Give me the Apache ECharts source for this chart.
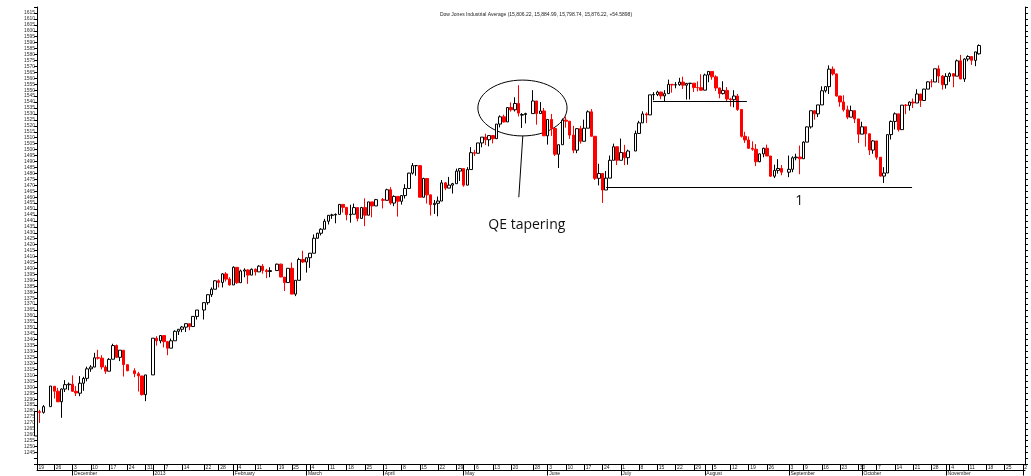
<!DOCTYPE html>
<html><head><meta charset="utf-8">
<script src="https://cdn.jsdelivr.net/npm/echarts@6/dist/echarts.min.js"></script>
<style>html,body{margin:0;padding:0;background:#fff}#c{width:1031px;height:476px}</style>
</head><body><div id="c"></div>
<script>
// ---------- DATA (Dow Jones Industrial Average / 10, daily) ----------
const startDate = '2012-11-19';
const axisEndDate = '2013-12-06';
const holidays = ['2012-11-22','2012-12-25','2013-01-01','2013-01-21','2013-02-18','2013-03-29','2013-05-27','2013-07-04','2013-09-02','2013-11-28'];
const monthKeys   = ['2012-12','2013-01','2013-02','2013-03','2013-04','2013-05','2013-06','2013-07','2013-08','2013-09','2013-10','2013-11','2013-12'];
const monthNames  = ['December','2013','February','March','April','May','June','July','August','September','October','November',''];
const titleText = 'Dow Jones Industrial Average (15,806.22, 15,884.99, 15,798.74, 15,876.22, +54.5898)';

const opens = [
1259.0,1279.4,1278.9,1283.7,1300.8,1296.7,1287.8,1298.5,1302.1,
1302.6,1296.6,1295.0,1303.4,1307.5,1315.5,1317.0,1324.9,1324.5,1317.0,1313.5,1323.6,1335.1,1325.2,1331.1,1319.0,1313.9,1311.4,1309.5,1293.8,
1310.4,1341.2,1339.1,1343.5,1338.4,1332.9,1339.1,1347.1,1348.8,1350.6,1353.5,1351.1,1359.6,1365.0,1371.2,1377.9,1382.5,1389.6,1388.2,1395.4,1391.0,
1386.1,1400.9,1388.0,1397.8,1398.7,1394.4,1399.3,1397.1,1401.9,1398.3,1397.4,1398.2,1403.6,1392.7,1388.1,1400.1,1378.4,1390.0,1407.5,
1405.4,1409.0,1412.8,1425.4,1429.6,1433.0,1439.7,1444.7,1445.0,1445.5,1453.9,1451.4,1445.2,1445.6,1451.2,1442.1,1451.2,1444.8,1456.0,1452.6,
1457.9,1457.3,1466.2,1455.0,1460.6,1456.5,1461.3,1467.3,1480.2,1486.5,1486.5,1459.9,1475.7,1461.9,1453.7,1454.8,1456.7,1472.0,1467.6,1470.1,1471.3,1481.9,
1484.0,1470.1,1483.2,1497.4,1496.9,1505.6,1510.5,1508.3,1511.8,1509.2,1521.5,1527.6,1523.3,1535.4,1533.5,1538.8,1529.0,1529.5,1530.3,1540.9,1530.3,1532.5,
1511.6,1525.4,1517.8,1496.1,1504.1,1524.8,1523.9,1512.2,1499.5,1517.6,1507.0,1518.0,1531.8,1511.2,1475.8,1479.9,1466.0,1476.0,1491.0,1502.4,
1491.0,1497.5,1493.2,1498.8,1513.6,1522.5,1530.0,1529.2,1546.1,1546.4,1548.4,1545.2,1547.1,1554.9,1554.4,1554.6,1556.8,1554.2,1555.6,1555.9,1552.2,1552.1,
1550.0,1562.8,1565.8,1561.2,1551.9,1547.1,1549.8,1542.6,1542.0,1545.1,1533.8,1511.2,1508.1,1501.1,1500.3,1489.8,1496.4,1501.1,1494.6,1477.6,1482.5,1484.1,
1481.0,1483.4,1493.1,1493.7,1492.3,1506.3,1519.1,1532.7,1530.1,1537.6,1549.5,1553.0,1567.7,1563.7,1545.1,1540.1,1533.5,1527.3,1532.8,1525.8,
1513.0,1519.2,1513.3,1499.6,1507.3,1493.6,1477.7,1480.3,1512.6,1523.7,1530.1,1516.8,1537.4,1537.2,1540.0,1539.2,1546.8,1541.3,1550.9,1557.0,1556.9,1568.0,1561.9,
1554.6,1561.6,1563.9,1561.8,1574.7,1559.4,1576.2,1578.3,1575.1,1580.6
];
const highs = [
1280.0,1281.0,1285.0,1301.0,1301.0,1299.5,1299.0,1306.0,1304.0,
1310.0,1301.0,1309.4,1308.8,1317.3,1318.6,1329.0,1331.5,1327.0,1318.6,1324.5,1336.6,1336.0,1331.2,1331.1,1319.0,1316.0,1313.0,1309.5,1310.4,
1341.3,1343.0,1343.6,1343.5,1339.0,1341.0,1348.0,1349.0,1351.6,1353.6,1353.5,1359.8,1365.0,1371.2,1378.1,1384.0,1390.0,1390.8,1396.0,1396.9,1392.6,
1401.8,1400.9,1399.0,1400.1,1399.3,1400.0,1400.0,1402.7,1403.6,1399.7,1401.0,1404.0,1404.0,1392.7,1400.1,1405.0,1390.0,1409.0,1414.9,
1409.0,1413.0,1428.6,1430.0,1433.8,1441.7,1444.9,1446.0,1446.3,1454.0,1453.9,1451.4,1453.6,1454.6,1451.2,1451.8,1459.0,1456.0,1456.0,1458.5,
1459.3,1467.1,1468.4,1461.5,1460.6,1461.3,1470.9,1480.5,1488.7,1486.5,1486.5,1476.3,1475.7,1462.0,1457.6,1460.5,1474.4,1472.7,1477.0,1472.0,1484.0,1484.4,
1484.0,1485.2,1502.1,1499.8,1505.6,1510.5,1513.4,1511.8,1512.3,1521.5,1528.8,1529.4,1535.4,1539.7,1544.0,1554.2,1530.7,1531.0,1550.0,1540.9,1540.0,1535.0,
1525.4,1530.0,1517.8,1504.1,1526.2,1527.9,1523.9,1520.0,1518.0,1520.0,1525.2,1533.0,1534.1,1511.2,1488.1,1479.9,1482.0,1495.0,1505.0,1502.4,
1509.3,1504.0,1500.0,1516.0,1524.2,1532.2,1531.3,1546.1,1548.3,1549.5,1548.7,1550.0,1558.9,1555.1,1556.8,1560.4,1561.4,1556.2,1555.9,1555.9,1557.4,1563.4,
1563.9,1565.9,1565.8,1562.5,1551.9,1557.5,1552.6,1543.6,1550.0,1546.8,1533.8,1515.0,1511.0,1507.0,1504.6,1496.6,1501.6,1504.2,1494.6,1487.3,1492.0,1487.0,
1495.0,1494.4,1496.5,1503.4,1507.0,1519.5,1532.7,1533.1,1537.6,1553.3,1553.0,1570.9,1570.0,1564.0,1545.1,1545.7,1537.0,1537.0,1532.8,1525.8,
1523.4,1519.2,1513.3,1508.0,1507.3,1493.6,1485.2,1512.6,1524.5,1531.3,1530.1,1537.4,1538.4,1540.5,1543.0,1550.8,1546.8,1551.2,1557.5,1559.2,1568.0,1570.9,1562.8,
1564.3,1565.0,1564.0,1575.8,1579.7,1576.9,1579.4,1578.3,1582.3,1588.5
];
const lows = [
1259.0,1270.0,1277.8,1283.7,1290.5,1287.5,1274.3,1296.0,1297.5,
1296.0,1292.6,1292.5,1297.0,1305.0,1313.0,1316.9,1323.3,1315.0,1311.3,1313.4,1323.5,1324.6,1322.0,1309.0,1313.5,1308.5,1296.4,1293.0,1288.3,
1310.4,1335.0,1337.0,1333.5,1327.0,1332.9,1339.1,1344.0,1346.4,1346.5,1348.0,1351.1,1357.0,1357.0,1369.5,1376.0,1382.5,1384.0,1384.0,1389.0,1385.7,
1386.1,1387.0,1388.0,1392.6,1387.0,1394.4,1394.0,1397.1,1395.6,1391.8,1392.6,1398.2,1392.7,1381.0,1388.1,1378.4,1376.7,1390.0,1404.5,
1396.5,1400.5,1412.8,1425.0,1427.8,1433.0,1437.0,1441.7,1438.0,1445.5,1447.0,1440.5,1438.5,1445.6,1439.6,1442.1,1435.6,1444.8,1443.0,1452.6,
1450.5,1457.3,1453.6,1452.4,1443.6,1453.7,1458.8,1467.3,1479.0,1478.0,1459.9,1459.9,1454.6,1444.5,1445.9,1443.9,1456.7,1465.9,1467.6,1463.0,1471.3,1473.6,
1468.7,1470.1,1483.2,1494.6,1496.9,1501.9,1503.8,1502.8,1505.2,1508.9,1518.7,1522.7,1523.3,1532.0,1532.1,1527.9,1518.2,1522.0,1530.3,1521.0,1530.3,1511.5,
1504.2,1511.5,1494.6,1484.5,1504.1,1518.5,1509.0,1497.0,1497.0,1505.0,1507.0,1518.0,1511.2,1474.4,1469.9,1455.1,1466.0,1476.0,1491.0,1487.0,
1491.0,1486.9,1487.3,1498.8,1513.6,1522.5,1522.3,1529.2,1541.6,1545.0,1542.4,1540.2,1546.8,1547.9,1551.6,1553.7,1551.0,1542.1,1542.2,1548.5,1549.0,1549.8,
1550.0,1556.7,1558.8,1549.4,1543.2,1546.4,1540.2,1536.2,1535.6,1532.6,1510.2,1505.6,1500.7,1499.0,1486.1,1489.4,1493.5,1494.6,1477.0,1476.0,1479.8,1478.4,
1476.8,1481.0,1491.0,1479.3,1492.3,1506.3,1517.7,1525.2,1527.4,1537.6,1548.0,1546.8,1562.3,1544.7,1536.1,1532.0,1525.6,1527.3,1522.3,1505.6,
1513.0,1502.5,1495.4,1496.5,1491.5,1477.3,1471.9,1480.3,1508.5,1516.9,1515.2,1516.8,1529.8,1532.8,1535.0,1539.2,1535.9,1541.3,1550.9,1552.4,1556.9,1556.0,1550.5,
1551.3,1557.1,1552.5,1561.8,1559.3,1557.0,1574.3,1571.3,1570.2,1579.9
];
const closes = [
1279.6,1278.9,1283.7,1301.0,1296.7,1287.8,1298.5,1302.2,1302.6,
1296.6,1295.2,1303.4,1307.4,1315.5,1317.0,1324.8,1324.5,1317.1,1313.5,1323.5,1335.1,1325.2,1331.2,1319.1,1313.9,1311.5,1309.6,1293.8,1310.4,
1341.3,1339.1,1343.5,1338.4,1332.9,1339.1,1347.1,1348.8,1350.7,1353.5,1351.1,1359.6,1365.0,1371.2,1377.9,1382.5,1389.6,1388.2,1395.4,1391.0,1386.1,
1401.0,1388.0,1397.9,1398.7,1394.4,1399.3,1397.1,1401.9,1398.3,1397.3,1398.2,1403.6,1392.8,1388.1,1400.1,1378.4,1390.0,1407.5,1405.4,
1409.0,1412.8,1425.4,1429.6,1433.0,1439.7,1444.7,1445.0,1445.5,1453.9,1451.4,1445.2,1445.6,1451.2,1442.1,1451.2,1444.8,1456.0,1452.6,1457.9,
1457.3,1466.2,1455.0,1460.6,1456.5,1461.3,1467.3,1480.2,1486.5,1486.5,1459.9,1475.7,1461.9,1453.7,1454.8,1456.7,1472.0,1467.6,1470.1,1471.3,1481.9,1484.0,
1470.1,1483.2,1497.4,1496.9,1505.6,1510.5,1508.3,1511.8,1509.2,1521.5,1527.6,1523.3,1535.4,1533.5,1538.8,1530.7,1529.5,1530.3,1540.9,1530.3,1532.5,1511.6,
1525.4,1517.8,1496.1,1504.1,1524.8,1523.9,1512.2,1499.5,1517.6,1507.0,1518.0,1531.8,1511.2,1475.8,1479.9,1466.0,1476.0,1491.0,1502.4,1491.0,
1497.5,1493.2,1498.8,1513.6,1522.5,1530.0,1529.2,1546.1,1546.4,1548.4,1545.2,1547.1,1554.9,1554.4,1554.6,1556.8,1554.2,1555.6,1555.9,1552.2,1552.1,1550.0,
1562.8,1565.8,1561.2,1551.9,1547.1,1549.8,1542.6,1542.0,1545.1,1533.8,1511.2,1508.1,1501.1,1500.3,1489.8,1496.4,1501.1,1494.6,1477.6,1482.5,1484.1,1481.0,
1483.4,1493.1,1493.7,1492.3,1506.3,1519.1,1532.7,1530.1,1537.6,1549.5,1553.0,1567.7,1563.7,1545.1,1540.1,1533.5,1527.3,1532.8,1525.8,1513.0,
1519.2,1513.3,1499.6,1507.3,1493.6,1477.7,1480.3,1512.6,1523.7,1530.1,1516.8,1537.4,1537.2,1540.0,1539.2,1546.8,1541.3,1550.9,1557.0,1556.9,1568.0,1561.9,1554.6,
1561.6,1563.9,1561.8,1574.7,1559.4,1576.2,1578.3,1575.1,1582.2,1587.6
];

// annotations, in data units (x = weekday index counted from startDate, y = index value)
const qeEllipse = {x: 133.1, y: 1535.0, rx: 12.2, ry: 23.5};
const qePointer = [[133.2, 1511.6], [132.1, 1459.9]];
const qeLabel = {x: 134.3, y: 1436.5, text: 'QE tapering'};
const levelLines = [[[168.8, 1540.4], [194.5, 1540.4]], [[156.0, 1468.5], [239.7, 1468.5]]];
const levelLabel = {x: 208.8, y: 1457.0, text: '1'};

// ---------- helpers ----------
const DAY = 86400000;
const t0 = Date.parse(startDate + 'T00:00:00Z');
function wd(s) { // weekday index from startDate (a Monday)
  const days = Math.round((Date.parse(s + 'T00:00:00Z') - t0) / DAY);
  return Math.floor(days / 7) * 5 + Math.min(days % 7, 5);
}
const cal = [];
for (let t = t0; t <= Date.parse(axisEndDate + 'T00:00:00Z'); t += DAY) {
  const d = new Date(t), dow = d.getUTCDay(), s = d.toISOString().slice(0, 10);
  if (dow >= 1 && dow <= 5 && holidays.indexOf(s) < 0) cal.push(s);
}
const N = closes.length;
const candleData = [];
for (let i = 0; i < N; i++) candleData.push([wd(cal[i]), opens[i], closes[i], lows[i], highs[i]]);

const xMin = 0.274, xMax = 270.6;
const weekTicks = [], monthTicks = [], weekLabel = {}, monthLabel = {};
cal.forEach((s, i) => {
  const x = wd(s), prev = i ? cal[i - 1] : null;
  if (!prev || Math.floor(wd(prev) / 5) !== Math.floor(x / 5)) {
    const lx = Math.max(x, xMin);
    weekTicks.push(lx); weekLabel[lx] = String(+s.slice(8));
  }
  if (prev && prev.slice(0, 7) !== s.slice(0, 7)) {
    monthTicks.push(x); monthLabel[x] = monthNames[monthKeys.indexOf(s.slice(0, 7))] || '';
  }
});
const row1Ticks = Array.from(new Set(weekTicks.concat(monthTicks))).sort((a, b) => a - b);

const smallFont = 'Liberation Sans, Arial, sans-serif';
const chart = echarts.init(document.getElementById('c'), null, {renderer: 'canvas'});
chart.setOption({
  animation: false,
  backgroundColor: '#ffffff',
  title: {text: titleText, left: 531, top: 7, textAlign: 'center',
    textStyle: {fontSize: 5, fontWeight: 'normal', color: '#222', fontFamily: smallFont}},
  grid: {left: 37, right: 6, top: 7, bottom: 10},
  xAxis: [
    {type: 'value', min: xMin, max: xMax, position: 'bottom',
      axisLine: {onZero: false, lineStyle: {color: '#000', width: 1}},
      axisTick: {show: true, customValues: row1Ticks, length: 6, lineStyle: {color: '#000', width: 1}},
      axisLabel: {customValues: weekTicks, formatter: v => weekLabel[v] || '', fontSize: 5, color: '#222',
        align: 'left', margin: 1, padding: [0, 0, 0, 1.5], fontFamily: smallFont},
      splitLine: {show: false}},
    {type: 'value', min: xMin, max: xMax, position: 'bottom', offset: 6,
      axisLine: {onZero: false, lineStyle: {color: '#000', width: 1}},
      axisTick: {show: true, customValues: monthTicks, length: 5, lineStyle: {color: '#000', width: 1}},
      axisLabel: {customValues: monthTicks, formatter: v => monthLabel[v] || '', fontSize: 5, color: '#222',
        align: 'left', margin: 0.5, padding: [0, 0, 0, 1.5], fontFamily: smallFont},
      splitLine: {show: false}}
  ],
  yAxis: [
    {type: 'value', min: 1235, max: 1620, interval: 5, position: 'left',
      axisLine: {show: true, lineStyle: {color: '#000', width: 1}},
      axisTick: {show: true, length: 3, lineStyle: {color: '#000'}},
      axisLabel: {formatter: v => (v >= 1245 && v <= 1615) ? String(v) : '', fontSize: 5, color: '#333', margin: 2, fontFamily: smallFont},
      splitLine: {show: false}},
    {type: 'value', min: 1235, max: 1620, interval: 5, position: 'right',
      axisLine: {show: true, lineStyle: {color: '#000', width: 1}},
      axisTick: {show: true, length: 3, lineStyle: {color: '#000'}},
      axisLabel: {show: false}, splitLine: {show: false}}
  ],
  series: [{
    type: 'candlestick', name: 'DJIA', xAxisIndex: 0, yAxisIndex: 0,
    dimensions: ['x', 'open', 'close', 'lowest', 'highest'],
    encode: {x: 'x', y: ['open', 'close', 'lowest', 'highest']},
    data: candleData, barWidth: 3, clip: true,
    itemStyle: {color: '#ffffff', color0: '#ff0000', borderColor: '#000000', borderColor0: '#ff0000', borderWidth: 1},
    markLine: {silent: true, symbol: ['none', 'none'], label: {show: false},
      lineStyle: {color: '#000', width: 1, type: 'solid'},
      data: levelLines.concat([qePointer]).map(p => [{coord: p[0]}, {coord: p[1]}])}
  }]
});

function px(x, y) { return chart.convertToPixel({gridIndex: 0}, [x, y]); }
const c = px(qeEllipse.x, qeEllipse.y);
const rx = px(qeEllipse.x + qeEllipse.rx, qeEllipse.y)[0] - c[0];
const ry = px(qeEllipse.x, qeEllipse.y - qeEllipse.ry)[1] - c[1];
const ql = px(qeLabel.x, qeLabel.y), ll = px(levelLabel.x, levelLabel.y);
const g = [
  {type: 'ellipse', shape: {cx: c[0], cy: c[1], rx: rx, ry: ry}, style: {fill: null, stroke: '#000', lineWidth: 1}, silent: true},
  {type: 'text', x: ql[0], y: ql[1], style: {text: qeLabel.text, fontSize: 14, fontFamily: 'Open Sans, Noto Sans, sans-serif', fill: '#111', align: 'center', verticalAlign: 'middle'}},
  {type: 'text', x: ll[0], y: ll[1], style: {text: levelLabel.text, fontSize: 14, fontFamily: 'Open Sans, Noto Sans, sans-serif', fill: '#111', align: 'center', verticalAlign: 'middle'}}
];
chart.setOption({graphic: g});
</script>
</body></html>
